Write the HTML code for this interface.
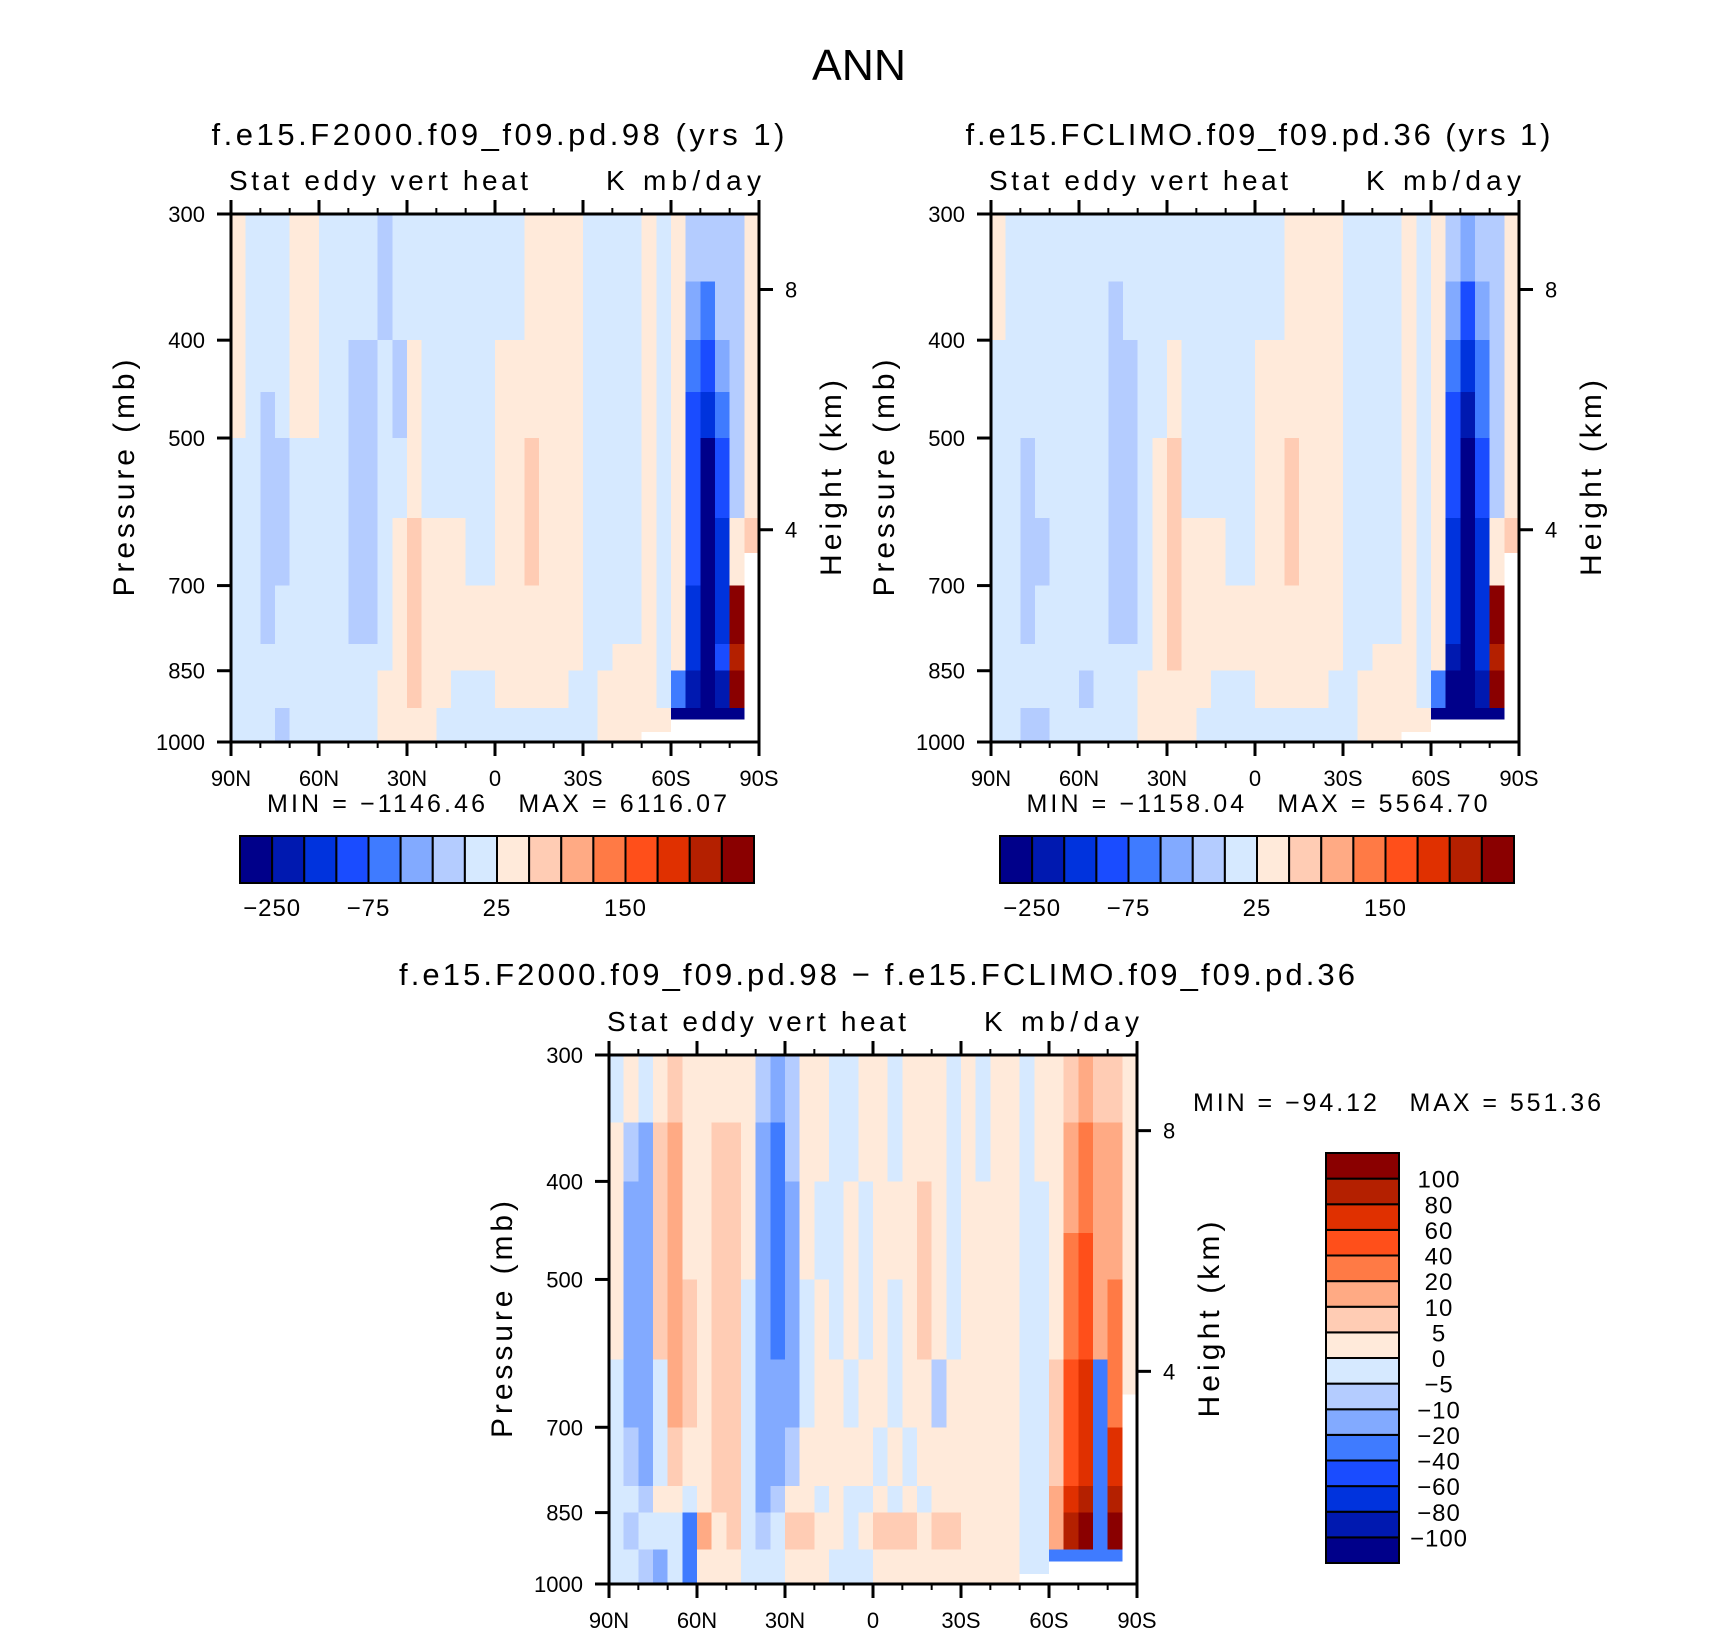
<!DOCTYPE html>
<html><head><meta charset="utf-8"><title>ANN Stat eddy vert heat</title>
<style>
html,body{margin:0;padding:0;background:#fff;}
svg{display:block;font-family:"Liberation Sans",sans-serif;}
text{white-space:pre;}
</style></head>
<body>
<svg id="fig" width="1710" height="1634" viewBox="0 0 1710 1634" xmlns="http://www.w3.org/2000/svg">
<text x="859" y="80" font-size="44" text-anchor="middle" fill="#000" textLength="94" lengthAdjust="spacingAndGlyphs">ANN</text>
</svg>
<script>
// ---------- data ----------
const latEdges = [90,85,80,75,70,65,60,55,50,45,40,35,30,25,20,15,10,5,0,-5,-10,-15,-20,-25,-30,-35,-40,-45,-50,-55,-60,-65,-70,-75,-80,-85,-90];
const pressureEdges = [300,350,400,450,500,600,700,800,850,925,1000];
const groundPressure = [1000,1000,1000,1000,1000,1000,1000,1000,1000,1000,1000,1000,1000,1000,1000,1000,1000,1000,1000,1000,1000,1000,1000,1000,1000,1000,1000,1000,978,978,950,950,950,950,950,650];
const absLevels = [-250,-200,-150,-100,-75,-50,-25,0,25,50,75,100,150,200,250];
const absLabels = ['-250','','','-75','','','','25','','','','150','','',''];
const diffLevels = [-100,-80,-60,-40,-20,-10,-5,0,5,10,20,40,60,80,100];
const diffLabels = ['-100','-80','-60','-40','-20','-10','-5','0','5','10','20','40','60','80','100'];
const paletteColors = ['#00008a','#0019b0','#0033dd','#1a4cff','#3f7bff','#82aaff','#b4ccff','#d6e9ff','#ffeada','#ffccb4','#ffaa84','#ff7a45','#ff4f1a','#e03000','#b42000','#8a0000'];
const xTickLats = [90,60,30,0,-30,-60,-90];
const xTickLabels = ['90N','60N','30N','0','30S','60S','90S'];
const yTickPressures = [300,400,500,700,850,1000];
const heightTickFractions = [0.143,0.598];
const heightTickLabels = ['8','4'];

const panel1Values = [
[10,-10,-10,-10,10,10,-10,-10,-10,-10,-35,-10,-10,-10,-10,-10,-10,-10,-10,-10,10,10,10,10,-10,-10,-10,-10,10,-10,10,-35,-50,-35,-35,10],
[10,-10,-10,-10,10,10,-10,-10,-10,-10,-35,-10,-10,-10,-10,-10,-10,-10,-10,-10,10,10,10,10,-10,-10,-10,-10,10,-10,10,-60,-80,-50,-35,10],
[10,-10,-10,-10,10,10,-10,-10,-35,-35,-10,-35,10,-10,-10,-10,-10,-10,10,10,10,10,10,10,-10,-10,-10,-10,10,-10,10,-80,-120,-60,-35,10],
[10,-10,-35,-10,10,10,-10,-10,-35,-35,-10,-35,10,-10,-10,-10,-10,-10,10,10,10,10,10,10,-10,-10,-10,-10,10,-10,10,-120,-200,-80,-35,10],
[-10,-10,-35,-35,-10,-10,-10,-10,-35,-35,-10,-10,10,-10,-10,-10,-10,-10,10,10,35,10,10,10,-10,-10,-10,-10,10,-10,10,-150,-300,-120,-35,10],
[-10,-10,-35,-35,-10,-10,-10,-10,-35,-35,-10,10,35,10,10,10,-10,-10,10,10,35,10,10,10,-10,-10,-10,-10,10,-10,10,-150,-300,-200,10,35],
[-10,-10,-35,-10,-10,-10,-10,-10,-35,-35,-10,10,35,10,10,10,10,10,10,10,10,10,10,10,-10,-10,-10,-10,10,-10,10,-200,-300,-200,250,10],
[-10,-10,-10,-10,-10,-10,-10,-10,-10,-10,-10,10,35,10,10,10,10,10,10,10,10,10,10,10,-10,-10,10,10,10,-10,10,-200,-300,-150,200,10],
[-10,-10,-10,-10,-10,-10,-10,-10,-10,-10,10,10,35,10,10,-10,-10,-10,10,10,10,10,10,-10,-10,10,10,10,10,-10,-80,-250,-300,-250,250,10],
[-10,-10,-10,-35,-10,-10,-10,-10,-10,-10,10,10,10,10,-10,-10,-10,-10,-10,-10,-10,-10,-10,-10,-10,10,10,10,10,10,-300,-300,-300,-300,-300,10]
];
const panel2Values = [
[10,-10,-10,-10,-10,-10,-10,-10,-10,-10,-10,-10,-10,-10,-10,-10,-10,-10,-10,-10,10,10,10,10,-10,-10,-10,-10,10,-10,10,-35,-60,-35,-35,10],
[10,-10,-10,-10,-10,-10,-10,-10,-35,-10,-10,-10,-10,-10,-10,-10,-10,-10,-10,-10,10,10,10,10,-10,-10,-10,-10,10,-10,10,-60,-120,-60,-35,10],
[-10,-10,-10,-10,-10,-10,-10,-10,-35,-35,-10,-10,10,-10,-10,-10,-10,-10,10,10,10,10,10,10,-10,-10,-10,-10,10,-10,10,-100,-200,-80,-35,10],
[-10,-10,-10,-10,-10,-10,-10,-10,-35,-35,-10,-10,10,-10,-10,-10,-10,-10,10,10,10,10,10,10,-10,-10,-10,-10,10,-10,10,-120,-250,-100,-35,10],
[-10,-10,-35,-10,-10,-10,-10,-10,-35,-35,-10,10,35,-10,-10,-10,-10,-10,10,10,35,10,10,10,-10,-10,-10,-10,10,-10,10,-150,-300,-150,-35,10],
[-10,-10,-35,-35,-10,-10,-10,-10,-35,-35,-10,10,35,10,10,10,-10,-10,10,10,35,10,10,10,-10,-10,-10,-10,10,-10,10,-200,-300,-200,10,35],
[-10,-10,-35,-10,-10,-10,-10,-10,-35,-35,-10,10,35,10,10,10,10,10,10,10,10,10,10,10,-10,-10,-10,-10,10,-10,10,-200,-300,-200,250,10],
[-10,-10,-10,-10,-10,-10,-10,-10,-10,-10,-10,10,35,10,10,10,10,10,10,10,10,10,10,10,-10,-10,10,10,10,-10,10,-250,-300,-200,200,10],
[-10,-10,-10,-10,-10,-10,-35,-10,-10,-10,10,10,10,10,10,-10,-10,-10,10,10,10,10,10,-10,-10,10,10,10,10,-10,-100,-300,-300,-250,250,10],
[-10,-10,-35,-35,-10,-10,-10,-10,-10,-10,10,10,10,10,-10,-10,-10,-10,-10,-10,-10,-10,-10,-10,-10,10,10,10,10,10,-300,-300,-300,-300,-300,10]
];
const panel3Values = [
[-3,3,-3,3,7,3,3,3,3,3,-7,-15,-7,3,3,-3,-3,3,3,-3,3,3,3,-3,3,-3,3,3,-3,3,3,7,15,7,7,3],
[3,-7,-15,7,15,3,3,7,7,3,-15,-30,-7,3,3,-3,-3,3,3,-3,3,3,3,-3,3,-3,3,3,-3,3,3,15,30,15,15,3],
[3,-15,-15,7,15,3,3,7,7,3,-15,-30,-15,3,-3,-3,3,-3,3,3,3,7,3,-3,3,3,3,3,-3,-3,3,15,30,15,15,3],
[3,-15,-15,7,15,3,3,7,7,3,-15,-30,-15,3,-3,-3,3,-3,3,3,3,7,3,-3,3,3,3,3,-3,-3,3,20,50,15,15,3],
[3,-15,-15,7,15,7,3,7,7,-3,-15,-30,-15,-3,3,-3,3,-3,3,-3,3,7,3,-3,3,3,3,3,-3,-3,3,30,50,15,30,3],
[-3,-15,-15,-3,15,7,3,7,7,-3,-15,-15,-15,-3,3,3,-3,3,3,-3,3,3,-7,3,3,3,3,3,-3,-3,7,50,70,-30,30,3],
[-3,-7,-15,-3,7,3,3,7,7,-3,-15,-15,-7,3,3,3,3,3,-3,3,-3,3,3,3,3,3,3,3,-3,-3,7,50,70,-30,70,3],
[-3,-3,-7,3,3,-3,3,7,7,-3,-15,-7,3,3,-3,3,-3,-3,3,-3,3,-3,3,3,3,3,3,3,-3,-3,15,70,90,-40,90,3],
[-3,-7,-3,-3,-3,-30,15,3,7,-3,-7,-3,7,7,3,3,-3,3,7,7,7,3,7,7,3,3,3,3,-3,-3,15,90,110,-40,110,3],
[-3,-3,-7,-15,-3,-30,3,3,3,-3,-3,-3,3,3,3,-3,-3,-3,3,3,3,3,3,3,3,3,3,3,-3,-3,-40,-40,-40,-40,-40,-3]
];

// ---------- drawing ----------
const NS = 'http://www.w3.org/2000/svg';
const svg = document.getElementById('fig');
function mk(tag, attrs, parent){
  const e = document.createElementNS(NS, tag);
  for (const k in attrs) e.setAttribute(k, attrs[k]);
  (parent||svg).appendChild(e);
  return e;
}
function colorFor(v, levels){
  let i = 0;
  while (i < levels.length && v >= levels[i]) i++;
  return paletteColors[i];
}
function txt(str, x, y, size, anchor, parent, len){
  const t = mk('text', {x:x, y:y, 'font-size':size, 'text-anchor':anchor||'start', fill:'#000'}, parent);
  if (len) { t.setAttribute('textLength', len); t.setAttribute('lengthAdjust', 'spacing'); }
  t.textContent = str.replace(/-/g,'\u2212');
  return t;
}

function drawPanel(cfg){
  const g = mk('g', {});
  
  
  const L=cfg.x, T=cfg.y, W=cfg.w, H=cfg.h;
  const xs = lat => L + (90 - lat) / 180 * W;
  const ys = p => T + Math.log(p/300) / Math.log(1000/300) * H;
  const field = mk('g', {'shape-rendering':'crispEdges'}, g);
  
  
  for (let r = 0; r < pressureEdges.length-1; r++){
    for (let c = 0; c < latEdges.length-1; c++){
      const x0 = xs(latEdges[c]), x1 = xs(latEdges[c+1]);
      const y0 = ys(pressureEdges[r]), y1 = ys(pressureEdges[r+1]);
      const cell = mk('rect', {x:x0, y:y0, width:x1-x0+0.6, height:y1-y0+0.6, fill:colorFor(cfg.values[r][c], cfg.levels)}, field);
      
      
    }
  }
  for (let c = 0; c < groundPressure.length; c++){
    if (groundPressure[c] < 1000){
      const x0 = xs(latEdges[c]), x1 = xs(latEdges[c+1]);
      const gr = mk('rect', {x:x0, y:ys(groundPressure[c]), width:x1-x0+0.6, height:T+H-ys(groundPressure[c]), fill:'#fff'}, field);
      
      
    }
  }
  const frame = mk('rect', {x:L, y:T, width:W, height:H, fill:'none', stroke:'#000', 'stroke-width':3}, g);
  
  
  for (let lat = 90; lat >= -90; lat -= 10){
    const major = lat % 30 === 0;
    const len = major ? 14 : 6;
    const x = xs(lat);
    mk('line', {x1:x, y1:T+H, x2:x, y2:T+H+len, stroke:'#000', 'stroke-width':major?3:2}, g);
    mk('line', {x1:x, y1:T, x2:x, y2:T-len, stroke:'#000', 'stroke-width':major?3:2}, g);
  }
  xTickLats.forEach((lat,i) => {
    const t = txt(xTickLabels[i], xs(lat), T+H+44, 22, 'middle', g);
    
    
  });
  yTickPressures.forEach(p => {
    const y = ys(p);
    mk('line', {x1:L-14, y1:y, x2:L, y2:y, stroke:'#000', 'stroke-width':3}, g);
    const t = txt(String(p), L-26, y+8, 22, 'end', g);
    
    
  });
  heightTickFractions.forEach((f,i) => {
    const y = T + f*H;
    mk('line', {x1:L+W, y1:y, x2:L+W+14, y2:y, stroke:'#000', 'stroke-width':3}, g);
    const t = txt(heightTickLabels[i], L+W+26, y+8, 22, 'start', g);
    
    
  });
  const yt = txt('Pressure (mb)', 0, 0, 30, 'middle', g, 237);
  yt.setAttribute('transform', `translate(${L-97},${T+H/2}) rotate(-90)`);
  
  
  const ht = txt('Height (km)', 0, 0, 30, 'middle', g, 196);
  ht.setAttribute('transform', `translate(${L+W+82},${T+H/2}) rotate(-90)`);
  
  
  const st = txt('Stat eddy vert heat', L-2, T-24, 28, 'start', g, 299);
  
  
  const un = txt('K mb/day', L+W+2, T-24, 28, 'end', g, 155);
  
  
  const ti = txt(cfg.title, cfg.titleX, cfg.titleY, 31, 'middle', g, cfg.titleLen);
  
  
  const mm = txt(cfg.minmax, cfg.mmX, cfg.mmY, 25, cfg.mmAnchor, g, cfg.mmLen);
  
  
}

function drawHBar(x, y, w, h, name){
  const g = mk('g', {});
  
  
  const bw = w / paletteColors.length;
  paletteColors.forEach((c,i) => {
    const b = mk('rect', {x:x+i*bw, y:y, width:bw, height:h, fill:c, stroke:'#000', 'stroke-width':2}, g);
    
    
  });
  absLabels.forEach((lab,i) => {
    if (!lab) return;
    const t = txt(lab, x+(i+1)*bw, y+h+33, 24, 'middle', g);
    t.setAttribute('letter-spacing', '1');
    
    
  });
}
function drawVBar(x, y, w, h, name){
  const g = mk('g', {});
  
  
  const n = paletteColors.length, bh = h / n;
  paletteColors.forEach((c,i) => {
    const b = mk('rect', {x:x, y:y+(n-1-i)*bh, width:w, height:bh, fill:c, stroke:'#000', 'stroke-width':2}, g);
    
    
  });
  diffLabels.forEach((lab,i) => {
    const t = txt(lab, x+w+40, y+(n-1-i)*bh+9, 24, 'middle', g);
    t.setAttribute('letter-spacing', '1');
    
    
  });
}

drawPanel({name:'panel-f2000', x:231, y:214, w:528, h:528, values:panel1Values, levels:absLevels,
  title:'f.e15.F2000.f09_f09.pd.98 (yrs 1)', titleX:498, titleY:145, titleLen:573,
  minmax:'MIN = -1146.46   MAX = 6116.07', mmX:497, mmY:812, mmAnchor:'middle', mmLen:460});
drawPanel({name:'panel-fclimo', x:991, y:214, w:528, h:528, values:panel2Values, levels:absLevels,
  title:'f.e15.FCLIMO.f09_f09.pd.36 (yrs 1)', titleX:1258, titleY:145, titleLen:585,
  minmax:'MIN = -1158.04   MAX = 5564.70', mmX:1257, mmY:812, mmAnchor:'middle', mmLen:461});
drawPanel({name:'panel-difference', x:609, y:1055, w:528, h:529, values:panel3Values, levels:diffLevels,
  title:'f.e15.F2000.f09_f09.pd.98 - f.e15.FCLIMO.f09_f09.pd.36', titleX:877, titleY:985, titleLen:956,
  minmax:'MIN = -94.12   MAX = 551.36', mmX:1193, mmY:1111, mmAnchor:'start', mmLen:408});
drawHBar(240, 836, 514, 47, 'colorbar-f2000');
drawHBar(1000, 836, 514, 47, 'colorbar-fclimo');
drawVBar(1326, 1153, 73, 410, 'colorbar-difference');
</script>
</body></html>
